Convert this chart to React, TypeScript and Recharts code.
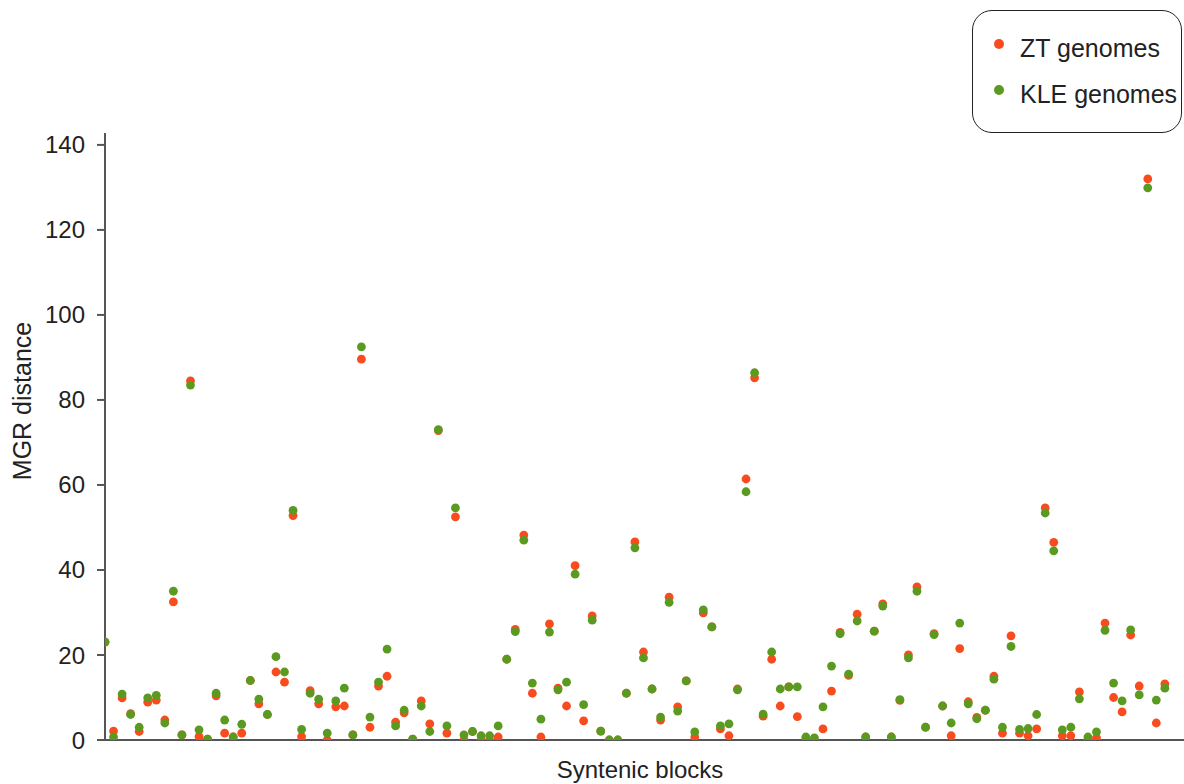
import React from 'react';
import { ScatterChart, Scatter, XAxis, YAxis, Legend } from 'recharts';

// MGR distance per syntenic block (125 blocks)
const ztDistance = [
  23, 2.1, 9.9, 6.2, 2, 8.9, 9.4, 4.7, 32.5, 1.2,
  84.5, 0.8, 0.2, 10.4, 1.6, 0.7, 1.6, 14, 8.5, 6,
  16, 13.6, 52.8, 0.8, 11.6, 8.5, 0, 7.8, 8, 1.2,
  89.6, 3, 12.7, 15, 4.2, 6.4, 0.2, 9.2, 3.8, 72.8,
  1.6, 52.5, 0, 2, 0, 0, 0.7, 19, 26, 48.2,
  11, 0.7, 27.3, 12.2, 8, 41, 4.5, 29.2, 2.1, 0,
  0, 11, 46.6, 20.7, 12, 4.7, 33.6, 7.8, 13.9, 0.7,
  29.9, 26.6, 2.6, 1, 12, 61.4, 85.2, 5.6, 19, 8,
  12.5, 5.5, 0.3, 0, 2.6, 11.5, 25.3, 15.2, 29.6, 0.7,
  25.6, 32, 0.7, 9.3, 20, 36, 3, 25, 8, 1,
  21.5, 9, 5.3, 7, 15, 1.6, 24.5, 1.6, 1, 2.6,
  54.6, 46.5, 1, 1, 11.3, 0, 0.5, 27.5, 10, 6.6,
  24.7, 12.7, 132, 4, 13.2,
];

const kleDistance = [
  23.1, 0.7, 10.8, 6, 3, 9.9, 10.5, 4, 35, 1.2,
  83.5, 2.4, 0.2, 11, 4.7, 0.7, 3.7, 14, 9.6, 6,
  19.6, 16, 54, 2.5, 11, 9.6, 1.6, 9.2, 12.2, 1.2,
  92.5, 5.4, 13.6, 21.4, 3.3, 7, 0.2, 8, 2, 73,
  3.3, 54.6, 1.2, 2, 1, 1, 3.3, 19, 25.5, 47,
  13.4, 4.9, 25.4, 11.8, 13.6, 39, 8.3, 28.2, 2.1, 0,
  0, 11, 45.2, 19.3, 12, 5.4, 32.4, 6.8, 13.9, 1.9,
  30.6, 26.6, 3.3, 3.8, 11.8, 58.4, 86.4, 6.1, 20.7, 12,
  12.5, 12.5, 0.7, 0.5, 7.8, 17.4, 25, 15.5, 28, 0.7,
  25.6, 31.5, 0.7, 9.5, 19.3, 35, 3, 24.8, 8, 4,
  27.5, 8.5, 5, 7, 14.3, 3, 22, 2.5, 2.7, 6,
  53.4, 44.5, 2.4, 3, 9.7, 0.7, 1.9, 25.8, 13.4, 9.2,
  25.9, 10.6, 129.9, 9.4, 12.2,
];

const yTicks = [0, 20, 40, 60, 80, 100, 120, 140];

const ztColor = '#f94c1e';
const kleColor = '#5b9a21';
const axisColor = '#555';
const textColor = '#222';
const font = '"Liberation Sans", Arial, Helvetica, sans-serif';

const ztData = ztDistance.map((v, i) => ({ block: i + 1, dist: v }));
const kleData = kleDistance.map((v, i) => ({ block: i + 1, dist: v }));

const dot = (color: string) => (props: any) =>
  <circle cx={props.cx} cy={props.cy} r={4.4} fill={color} />;

function YLabel() {
  return (
    <text x={31} y={401} transform="rotate(-90 31 401)" textAnchor="middle"
      fontSize={25} fill={textColor} fontFamily={font}>
      MGR distance
    </text>
  );
}

function XLabel() {
  return (
    <text x={640} y={778} textAnchor="middle" fontSize={24} fill={textColor} fontFamily={font}>
      Syntenic blocks
    </text>
  );
}

function LegendBox() {
  const rows = [
    { name: 'ZT genomes', color: ztColor },
    { name: 'KLE genomes', color: kleColor },
  ];
  return (
    <div style={{
      position: 'relative', width: 210, height: 123, boxSizing: 'border-box',
      border: `1.5px solid ${textColor}`, borderRadius: 20, fontFamily: font, background: '#fff',
    }}>
      {rows.map((r, i) => (
        <div key={r.name} style={{ position: 'absolute', left: 0, top: 22 + i * 46, height: 30, width: 210 }}>
          <span style={{
            position: 'absolute', left: 21, top: 6, width: 10, height: 10,
            borderRadius: 5, background: r.color,
          }} />
          <span style={{
            position: 'absolute', left: 47, top: 1, fontSize: 25, lineHeight: '28px', color: textColor,
            whiteSpace: 'nowrap',
          }}>{r.name}</span>
        </div>
      ))}
    </div>
  );
}

export default function App() {
  return (
    <div style={{ position: 'absolute', left: 0, top: 0, width: 1184, height: 784, background: '#fff' }}>
      <ScatterChart width={1184} height={784} margin={{ top: 133, right: 0, bottom: 0, left: 0 }}>
        <XAxis
          type="number"
          dataKey="block"
          domain={[1, 127.24]}
          allowDataOverflow
          height={44}
          tick={false}
          tickLine={false}
          axisLine={{ stroke: axisColor, strokeWidth: 2 }}
          label={<XLabel />}
        />
        <YAxis
          type="number"
          dataKey="dist"
          domain={[0, 142.8]}
          ticks={yTicks}
          allowDataOverflow
          width={105}
          tickSize={8}
          tickMargin={12}
          tick={{ fill: textColor, fontSize: 24, fontFamily: font }}
          tickLine={{ stroke: axisColor, strokeWidth: 2 }}
          axisLine={{ stroke: axisColor, strokeWidth: 2 }}
          label={<YLabel />}
        />
        <Legend
          layout="vertical"
          align="center"
          verticalAlign="middle"
          wrapperStyle={{ top: 10, left: 972 }}
          content={() => <LegendBox />}
        />
        <Scatter name="ZT genomes" data={ztData} fill={ztColor} shape={dot(ztColor)} isAnimationActive={false} />
        <Scatter name="KLE genomes" data={kleData} fill={kleColor} shape={dot(kleColor)} isAnimationActive={false} />
      </ScatterChart>
    </div>
  );
}
